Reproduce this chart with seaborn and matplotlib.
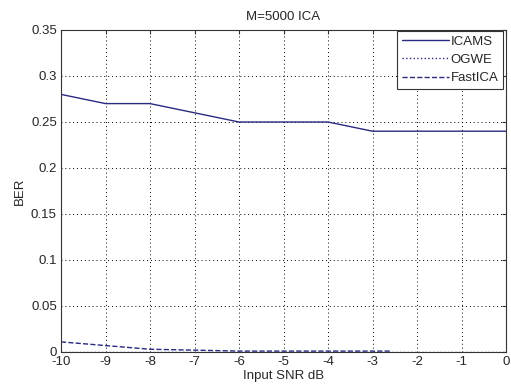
import numpy as np
import pandas as pd
import matplotlib
matplotlib.use("Agg")
import matplotlib.pyplot as plt
import seaborn as sns

snr = [-10, -9, -8, -7, -6, -5, -4, -3, -2, -1, 0]
icams = [0.28, 0.27, 0.27, 0.26, 0.25, 0.25, 0.25, 0.24, 0.24, 0.24, 0.24]
ogwe = [0, 0, 0, 0, 0, 0, 0, 0, 0, 0, 0]
fastica_snr = [-10, -9, -8, -7, -6, -5, -4, -3, -2.6]
fastica = [0.011, 0.007, 0.003, 0.002, 0.001, 0.001, 0.001, 0.001, 0.001]
yticklabels = ['0', '0.05', '0.1', '0.15', '0.2', '0.25', '0.3', '0.35']

sns.set_style("white")
plt.rcParams['font.family'] = ['Liberation Sans', 'DejaVu Sans']
plt.rcParams['axes.unicode_minus'] = False
fs = 9.5
plt.rcParams['font.size'] = fs

fig = plt.figure(figsize=(5.11, 3.88), dpi=100)
ax = fig.add_axes([61/511, 36/388, 445/511, 322/388])

line_color = '#2a2a80'
sns.lineplot(x=snr, y=icams, ax=ax, color=line_color, linewidth=1.0, label='ICAMS')
sns.lineplot(x=snr, y=ogwe, ax=ax, color=line_color, linewidth=1.0, linestyle=':', label='OGWE')
sns.lineplot(x=fastica_snr, y=fastica, ax=ax, color=line_color, linewidth=1.0, linestyle='--', label='FastICA')

ax.set_xlim(-10, 0)
ax.set_ylim(0, 0.35)
ax.set_xticks(np.arange(-10, 1, 1))
ax.set_yticks(np.arange(0, 0.351, 0.05))
ax.set_yticklabels(yticklabels)
ax.grid(True, color='black', linestyle=(0, (1, 3)), linewidth=0.7)
ax.tick_params(direction='in', top=True, right=True, length=3, color='#333333', labelsize=fs, pad=3)
for s in ax.spines.values():
    s.set_color('#333333')
    s.set_linewidth(0.8)
ax.set_xlabel('Input SNR dB', fontsize=fs, labelpad=1)
ax.set_ylabel('BER', fontsize=fs, labelpad=4)
ax.set_title('M=5000 ICA', fontsize=fs, pad=7)
leg = ax.legend(loc='upper right', bbox_to_anchor=(503/511, 357/388), bbox_transform=fig.transFigure,
                fontsize=fs, frameon=True, fancybox=False,
                edgecolor='#333333', framealpha=1, handlelength=3.6, handletextpad=0.1,
                borderpad=0.35, labelspacing=0.45, borderaxespad=0)
leg.get_frame().set_linewidth(0.8)

fig.savefig('out.png', dpi=100, facecolor='white')
